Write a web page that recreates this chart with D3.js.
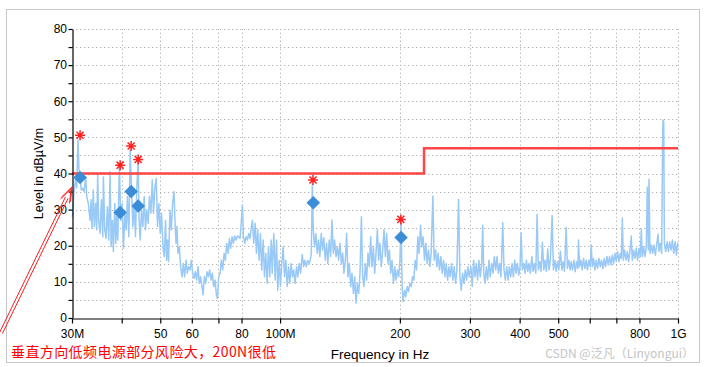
<!DOCTYPE html>
<html>
<head>
<meta charset="utf-8">
<script src="https://cdn.jsdelivr.net/npm/d3@7"></script>
<style>
    body { margin: 0; background: #fff; }
    svg text { font-family: "Liberation Sans", Arial, sans-serif; }
</style>
</head>
<body>
<svg id="chart" width="705" height="367"></svg>
<script>
// Spectrum trace: [frequency in MHz, level in dBuV/m]
var spectrum = [
    [30.00, 28], [30.12, 28.5], [30.26, 33], [30.35, 35], [30.65, 38.6], [30.83, 36], [31.06, 49.3], [31.24, 41],
    [31.43, 38.6], [31.67, 35.4], [31.93, 35.9], [32.17, 35], [32.48, 39], [32.67, 33.6], [32.97, 31.7], [33.30, 27],
    [33.49, 32.7], [33.69, 24.8], [33.94, 35.4], [34.14, 25.3], [34.42, 31.7], [34.61, 24.4], [34.81, 39.6], [35.01, 27],
    [35.29, 23.4], [35.56, 32.7], [35.85, 22.5], [35.97, 39], [36.26, 24.4], [36.54, 22], [36.81, 30.8], [37.11, 21.6],
    [37.40, 40.5], [37.62, 19.7], [37.90, 27], [38.12, 18.4], [38.43, 31.7], [38.65, 20.7], [38.87, 28], [39.10, 21.6],
    [39.46, 41.9], [39.80, 27], [40.10, 31.7], [40.41, 19.3], [40.73, 29], [41.04, 24.4], [41.35, 33.6], [41.68, 22.5],
    [42.00, 46.5], [42.32, 36.3], [42.66, 25.3], [42.99, 31.7], [43.31, 22.5], [43.66, 36.3], [43.99, 43.3], [44.24, 27],
    [44.51, 21.6], [44.85, 29.9], [45.21, 25.3], [45.56, 33.6], [45.90, 24.4], [46.26, 29.9], [46.62, 26.2], [46.96, 33.6],
    [47.36, 29], [47.72, 38.2], [48.08, 29], [48.47, 36.3], [48.84, 38.6], [49.20, 25.3], [49.60, 31.7], [49.99, 23.4],
    [50.37, 29], [50.78, 19.7], [51.16, 17], [51.55, 27], [51.85, 16], [52.15, 21.6], [52.45, 15.6], [52.88, 29.9],
    [53.29, 24.4], [53.69, 31.7], [54.13, 35], [54.44, 27], [54.76, 20.7], [55.07, 25.3], [55.38, 17.9], [55.82, 19.7],
    [56.24, 14.2], [56.70, 11.4], [57.13, 15.1], [57.56, 11.4], [58.03, 16], [58.47, 12.4], [58.91, 14.2], [59.39, 13.3],
    [59.84, 16], [60.29, 12.4], [60.78, 11], [61.24, 12.8], [61.70, 10.5], [62.21, 14.2], [62.68, 9.6], [63.15, 11.4],
    [63.66, 8.7], [64.04, 6.4], [64.52, 11.4], [65.01, 9.6], [65.52, 12.8], [66.02, 11.4], [66.51, 13.3], [67.08, 10.5],
    [67.59, 12.4], [68.10, 8.7], [68.65, 10.5], [69.18, 6.4], [69.58, 5.4], [70.10, 11.4], [70.67, 12.4], [71.21, 16],
    [71.75, 13.3], [72.34, 17.9], [72.88, 16], [73.43, 20.7], [74.04, 17.9], [74.59, 22], [75.14, 19.3], [75.75, 22.5],
    [76.33, 20.7], [76.91, 22.7], [77.54, 21.6], [78.12, 22.7], [78.71, 22.5], [79.35, 22], [79.95, 27], [80.42, 31.3],
    [80.89, 22.5], [81.50, 20.7], [82.17, 22.5], [82.78, 21.6], [83.41, 23.4], [84.08, 22], [84.73, 25.3], [85.23, 27],
    [85.87, 20.7], [86.57, 26.2], [87.22, 17.9], [87.87, 24.4], [88.58, 16], [89.27, 23.4], [89.95, 13.3], [90.68, 21.6],
    [91.37, 11.4], [92.06, 17.9], [92.79, 9.6], [93.49, 19.7], [94.18, 11.4], [94.99, 21.6], [95.54, 12.4], [96.43, 23.4],
    [97.21, 10.5], [97.95, 21.6], [98.68, 7.7], [99.47, 16], [100.25, 8.7], [101.0, 15.1], [101.8, 19.7], [102.6, 11.4],
    [103.4, 16], [104.2, 8.7], [105.0, 14.2], [105.8, 9.6], [106.6, 15.1], [107.4, 11.4], [108.2, 13.3], [109.1, 9.6],
    [110.0, 14.2], [110.8, 11.4], [111.7, 15.1], [112.6, 12.4], [113.7, 17.6], [114.6, 14.2], [115.4, 16], [116.4, 14.2],
    [117.3, 16], [118.2, 15.1], [119.1, 16], [119.8, 17.9], [120.5, 36.8], [121.2, 24.4], [122.1, 19.7], [123.0, 23.4],
    [124.0, 17.9], [124.9, 21.6], [125.9, 17], [126.9, 23.4], [127.9, 18.8], [128.8, 22.2], [129.9, 16], [130.9, 20.7],
    [131.8, 15.1], [132.9, 21.6], [134.0, 17], [135.0, 27.1], [136.1, 17.9], [137.1, 21.6], [138.2, 17], [139.3, 19.7],
    [140.3, 16], [141.4, 20.7], [142.6, 15.1], [143.7, 17.9], [144.7, 12.4], [145.9, 16], [147.0, 23.4], [148.1, 11.4],
    [149.3, 15.1], [150.5, 8.7], [151.6, 12.4], [152.9, 6.8], [154.0, 11.4], [155.2, 4.1], [156.4, 9.6], [157.6, 6.8],
    [158.8, 12.4], [160.1, 28], [161.3, 11.4], [162.5, 8.7], [163.8, 15.1], [165.0, 10.5], [166.3, 17.9], [167.6, 14.2],
    [168.9, 22.5], [170.2, 14.2], [171.6, 19.7], [172.9, 12.4], [174.2, 17.9], [175.6, 24.4], [176.9, 16], [178.2, 20.7],
    [179.7, 14.2], [181.1, 18.8], [182.5, 24.4], [183.9, 17], [185.3, 23.4], [186.7, 15.1], [188.2, 18.8], [189.7, 12.4],
    [191.1, 16], [192.7, 9.6], [194.2, 14.2], [195.6, 10.5], [197.2, 13.3], [198.7, 11.4], [200.1, 16], [201.4, 27.1],
    [202.6, 8.7], [203.8, 4.5], [205.5, 7.7], [207.0, 5.9], [208.6, 8.7], [210.3, 7.3], [211.9, 9.6], [213.5, 8.7],
    [215.2, 11.4], [216.9, 10.5], [218.5, 16], [220.3, 13.3], [221.9, 22.5], [223.6, 17.9], [225.4, 25.7], [227.1, 19.7],
    [228.8, 22.5], [230.7, 16], [232.4, 20.7], [234.2, 15.1], [236.1, 18.8], [237.9, 14.2], [239.7, 17.9], [242.1, 33.8],
    [243.9, 16], [245.9, 18.8], [247.8, 14.2], [249.6, 17.9], [251.6, 13.3], [253.6, 17], [255.5, 12.4], [257.6, 16],
    [259.6, 11.4], [261.5, 15.1], [263.6, 10.5], [265.6, 14.2], [267.5, 11.4], [269.8, 15.1], [271.8, 10.5], [273.9, 14.2],
    [276.1, 9.6], [278.2, 13.3], [280.9, 32.9], [283.1, 11.4], [285.2, 7.7], [287.5, 12.4], [289.7, 9.6], [291.9, 13.3],
    [294.3, 10.5], [296.5, 14.2], [298.7, 11.4], [301.7, 14.2], [304.0, 8.7], [306.5, 16], [308.8, 11.4], [311.1, 15.1],
    [313.6, 10.5], [316.0, 16], [318.3, 11.4], [321.1, 15.1], [323.0, 25.7], [324.9, 12.4], [327.3, 9.6], [329.8, 14.2],
    [332.4, 10.5], [334.9, 16], [337.4, 11.4], [340.3, 15.1], [342.9, 12.4], [345.4, 17], [348.3, 13.3], [350.9, 17],
    [353.5, 12.4], [356.4, 15.1], [359.1, 11.4], [362.7, 26.4], [365.4, 13.3], [368.2, 10.5], [371.2, 14.2], [374.0, 10.5],
    [376.8, 14.2], [379.9, 11.4], [382.8, 15.1], [385.7, 11.4], [388.9, 16], [391.8, 12.4], [394.8, 15.1], [398.0, 11.9],
    [401.0, 14.2], [403.3, 23.6], [406.4, 13.3], [409.7, 15.1], [412.8, 12.4], [415.9, 16], [419.2, 12.9], [422.4, 15.1],
    [425.5, 12.4], [429.2, 17], [432.4, 12.9], [435.6, 15.1], [439.2, 12.4], [442.5, 28.7], [445.8, 13.3], [449.4, 15.6],
    [452.8, 12.9], [456.2, 21], [460.0, 13.3], [463.4, 16], [467.0, 12.9], [470.6, 19.1], [474.2, 13.3], [477.7, 16],
    [482.7, 28.4], [486.3, 13.3], [490.3, 16], [494.0, 12.9], [497.8, 15.6], [501.8, 13.3], [506.4, 18.5], [510.7, 13.3],
    [514.6, 15.6], [518.4, 12.9], [523.5, 25.1], [527.5, 13.7], [531.8, 16], [535.9, 13.3], [539.0, 15.6], [543.1, 13.3],
    [547.5, 16], [551.7, 12.8], [555.9, 15.6], [560.2, 13.7], [562.2, 21.6], [565.6, 14.2], [570.2, 16], [574.4, 13.3],
    [578.8, 16.5], [583.5, 13.7], [587.9, 16], [592.3, 13.3], [597.2, 16], [601.7, 14.2], [605.3, 20.2], [608.8, 14.2],
    [613.4, 16.5], [618.4, 13.3], [623.1, 16], [627.8, 13.7], [633.0, 16.5], [637.7, 14.2], [642.5, 16], [647.7, 13.7],
    [652.7, 16.5], [657.6, 14.2], [663.0, 17], [668.0, 14.7], [673.0, 17], [678.5, 14.7], [683.6, 17.4], [688.8, 15.1],
    [694.4, 17.9], [699.7, 15.6], [705.0, 18.4], [710.8, 15.6], [716.1, 17.9], [720.4, 16.5], [724.6, 27.6], [728.8, 16],
    [734.3, 18.8], [740.3, 16], [745.9, 18.4], [751.4, 15.6], [757.5, 18.8], [763.1, 22.7], [767.5, 16], [773.3, 18.8],
    [779.7, 16.5], [785.5, 19.3], [791.5, 16], [798.0, 19.3], [804.0, 17], [808.7, 24.6], [813.4, 17], [819.5, 19.7],
    [826.2, 17], [832.5, 19.7], [837.3, 36.2], [842.2, 18.8], [845.7, 38.4], [850.3, 17.9], [857.1, 20.2], [863.6, 17.9],
    [870.6, 20.2], [877.2, 17.4], [883.9, 20.2], [890.9, 23.2], [896.0, 18.4], [903.0, 20.7], [909.9, 17.9], [915.2, 52],
    [917.3, 54.8], [920.5, 54.3], [924.3, 20.7], [931.3, 18.4], [938.9, 21.1], [945.9, 18.4], [953.1, 21.1], [960.8, 18.8],
    [968.2, 21.6], [975.5, 17.9], [983.5, 21.1], [990.9, 17.4], [998.4, 20.7], [1000, 19.7]
];

// Limit line (step at 230 MHz)
var limitFreqs = [30, 230, 230, 1000];
var limitLevels = [40, 40, 47, 47];

// Final measurement markers (diamonds) and peaks (asterisks)
var markerFreqs = [31.43, 39.64, 42.24, 43.99, 121.2, 201.4];
var markerLevels = [38.9, 29.2, 35.0, 31.0, 31.9, 22.3];
var peakFreqs = [31.43, 39.64, 42.24, 43.99, 121.0, 201.1];
var peakLevels = [50.6, 42.3, 47.6, 43.9, 38.2, 27.3];

// Axis ticks
var xTickValues = [30, 40, 50, 60, 70, 80, 100, 200, 300, 400, 500, 600, 700, 800, 1000];
var xTickLabels = {30: '30M', 50: '50', 60: '60', 80: '80', 100: '100M', 200: '200', 300: '300',
    400: '400', 500: '500', 800: '800', 1000: '1G'};
var yTickValues = [0, 5, 10, 15, 20, 25, 30, 35, 40, 45, 50, 55, 60, 65, 70, 75, 80];

var svg = d3.select('#chart');
var x = d3.scaleLog().domain([30, 1000]).range([72, 678]);
var y = d3.scaleLinear().domain([0, 80]).range([318, 29]);

// outer frame
svg.append('rect')
    .attr('x', 6.5).attr('y', 9.5)
    .attr('width', 693).attr('height', 353)
    .attr('fill', 'none')
    .attr('stroke', '#c8c8c8');

// dotted grid
var grid = svg.append('g').attr('class', 'grid')
    .attr('stroke', '#b4b4b4')
    .attr('stroke-dasharray', '1.3,2.7');
grid.selectAll('line.h')
    .data(yTickValues.filter(function (d) { return d > 0; }))
    .enter().append('line')
    .attr('class', 'h')
    .attr('x1', x(30)).attr('x2', x(1000))
    .attr('y1', function (d) { return Math.round(y(d)) + 0.5; })
    .attr('y2', function (d) { return Math.round(y(d)) + 0.5; });
grid.selectAll('line.v')
    .data(xTickValues.filter(function (d) { return d > 30; }))
    .enter().append('line')
    .attr('class', 'v')
    .attr('y1', y(0)).attr('y2', y(80))
    .attr('x1', function (d) { return Math.round(x(d)) + 0.5; })
    .attr('x2', function (d) { return Math.round(x(d)) + 0.5; });

// spectrum trace
var line = d3.line()
    .x(function (d) { return x(d[0]); })
    .y(function (d) { return y(d[1]); });
svg.append('path')
    .datum(spectrum)
    .attr('d', line)
    .attr('fill', 'none')
    .attr('stroke', '#99c9f7')
    .attr('stroke-width', 1.5)
    .attr('stroke-linejoin', 'round');

// limit line
var limitData = limitFreqs.map(function (f, i) { return [f, limitLevels[i]]; });
svg.append('path')
    .datum(limitData)
    .attr('d', line)
    .attr('fill', 'none')
    .attr('stroke', '#ff4545')
    .attr('stroke-width', 2.5);

// axes
var yAxis = d3.axisLeft(y)
    .tickValues(yTickValues)
    .tickFormat(function (d) { return d % 10 === 0 ? d : ''; })
    .tickSize(4)
    .tickPadding(1.5)
    .tickSizeOuter(0);
var gy = svg.append('g')
    .attr('transform', 'translate(72.5,0)')
    .call(yAxis);

var xAxis = d3.axisBottom(x)
    .tickValues(xTickValues)
    .tickFormat(function (d) { return xTickLabels[d] || ''; })
    .tickSize(5)
    .tickPadding(6)
    .tickSizeOuter(0);
var gx = svg.append('g')
    .attr('transform', 'translate(0,318.5)')
    .call(xAxis);

[gx, gy].forEach(function (g) {
    g.selectAll('path, line').attr('stroke', '#000').attr('stroke-width', 1.2);
    g.selectAll('text')
        .attr('fill', '#000')
        .style('font-size', '12px')
        .style('font-family', '"Liberation Sans", Arial, sans-serif');
    // drop the empty labels of minor ticks
    g.selectAll('text').filter(function () { return this.textContent === ''; }).remove();
});

// axis titles
svg.append('text')
    .attr('transform', 'translate(43,' + ((y(0) + y(80)) / 2) + ') rotate(-90)')
    .attr('text-anchor', 'middle')
    .style('font-size', '12.5px')
    .text('Level in dBµV/m');
svg.append('text')
    .attr('x', 380).attr('y', 359)
    .attr('text-anchor', 'middle')
    .style('font-size', '13.5px')
    .text('Frequency in Hz');

// diamonds
var diamond = d3.symbol().type(d3.symbolSquare).size(92);
svg.selectAll('path.marker')
    .data(markerFreqs)
    .enter().append('path')
    .attr('class', 'marker')
    .attr('d', diamond)
    .attr('transform', function (d, i) {
        return 'translate(' + x(d) + ',' + y(markerLevels[i]) + ') rotate(45)';
    })
    .attr('fill', '#3b8dd8');

// asterisks
var asterisk = {
    draw: function (context, size) {
        var r = Math.sqrt(size) / 2;
        for (var k = 0; k < 4; k++) {
            var a = k * Math.PI / 4;
            context.moveTo(-r * Math.sin(a), -r * Math.cos(a));
            context.lineTo(r * Math.sin(a), r * Math.cos(a));
        }
    }
};
svg.selectAll('path.peak')
    .data(peakFreqs)
    .enter().append('path')
    .attr('class', 'peak')
    .attr('d', d3.symbol().type(asterisk).size(100))
    .attr('transform', function (d, i) {
        return 'translate(' + x(d) + ',' + y(peakLevels[i]) + ')';
    })
    .attr('fill', 'none')
    .attr('stroke', '#ff2020')
    .attr('stroke-width', 1.5);

// red annotation arrow (double line, open head)
var tip = [x(30), y(36.3)];
var tail = [1, 333];
var dx = tip[0] - tail[0], dy = tip[1] - tail[1];
var len = Math.sqrt(dx * dx + dy * dy);
var ux = dx / len, uy = dy / len, nx = -uy, ny = ux;
var arrow = svg.append('g').attr('stroke', '#ff1a1a').attr('fill', 'none').attr('stroke-width', 1);
[-1.5, 1.5].forEach(function (o) {
    arrow.append('line')
        .attr('x1', tail[0] + nx * o).attr('y1', tail[1] + ny * o)
        .attr('x2', tip[0] - ux * 12 + nx * o).attr('y2', tip[1] - uy * 12 + ny * o);
});
[0, 2].forEach(function (b) {
    var hx = tip[0] - ux * b, hy = tip[1] - uy * b;
    arrow.append('path')
        .attr('d', 'M' + (hx - ux * 14 + nx * 5) + ',' + (hy - uy * 14 + ny * 5) +
            'L' + hx + ',' + hy +
            'L' + (hx - ux * 14 - nx * 5) + ',' + (hy - uy * 14 - ny * 5));
});

// annotation text
svg.append('text')
    .attr('x', 11).attr('y', 356.5)
    .attr('fill', '#ff0000')
    .style('font-family', '"Noto Sans CJK SC", sans-serif')
    .style('font-size', '14px')
    .style('letter-spacing', '0.4px')
    .text('垂直方向低频电源部分风险大，200N很低');

// watermark
svg.append('text')
    .attr('x', 694).attr('y', 358)
    .attr('text-anchor', 'end')
    .attr('fill', '#c4c4c4')
    .style('font-family', '"Noto Sans CJK SC", sans-serif')
    .style('font-size', '12px')
    .text('CSDN @泛凡（Linyongui）');
</script>
</body>
</html>
